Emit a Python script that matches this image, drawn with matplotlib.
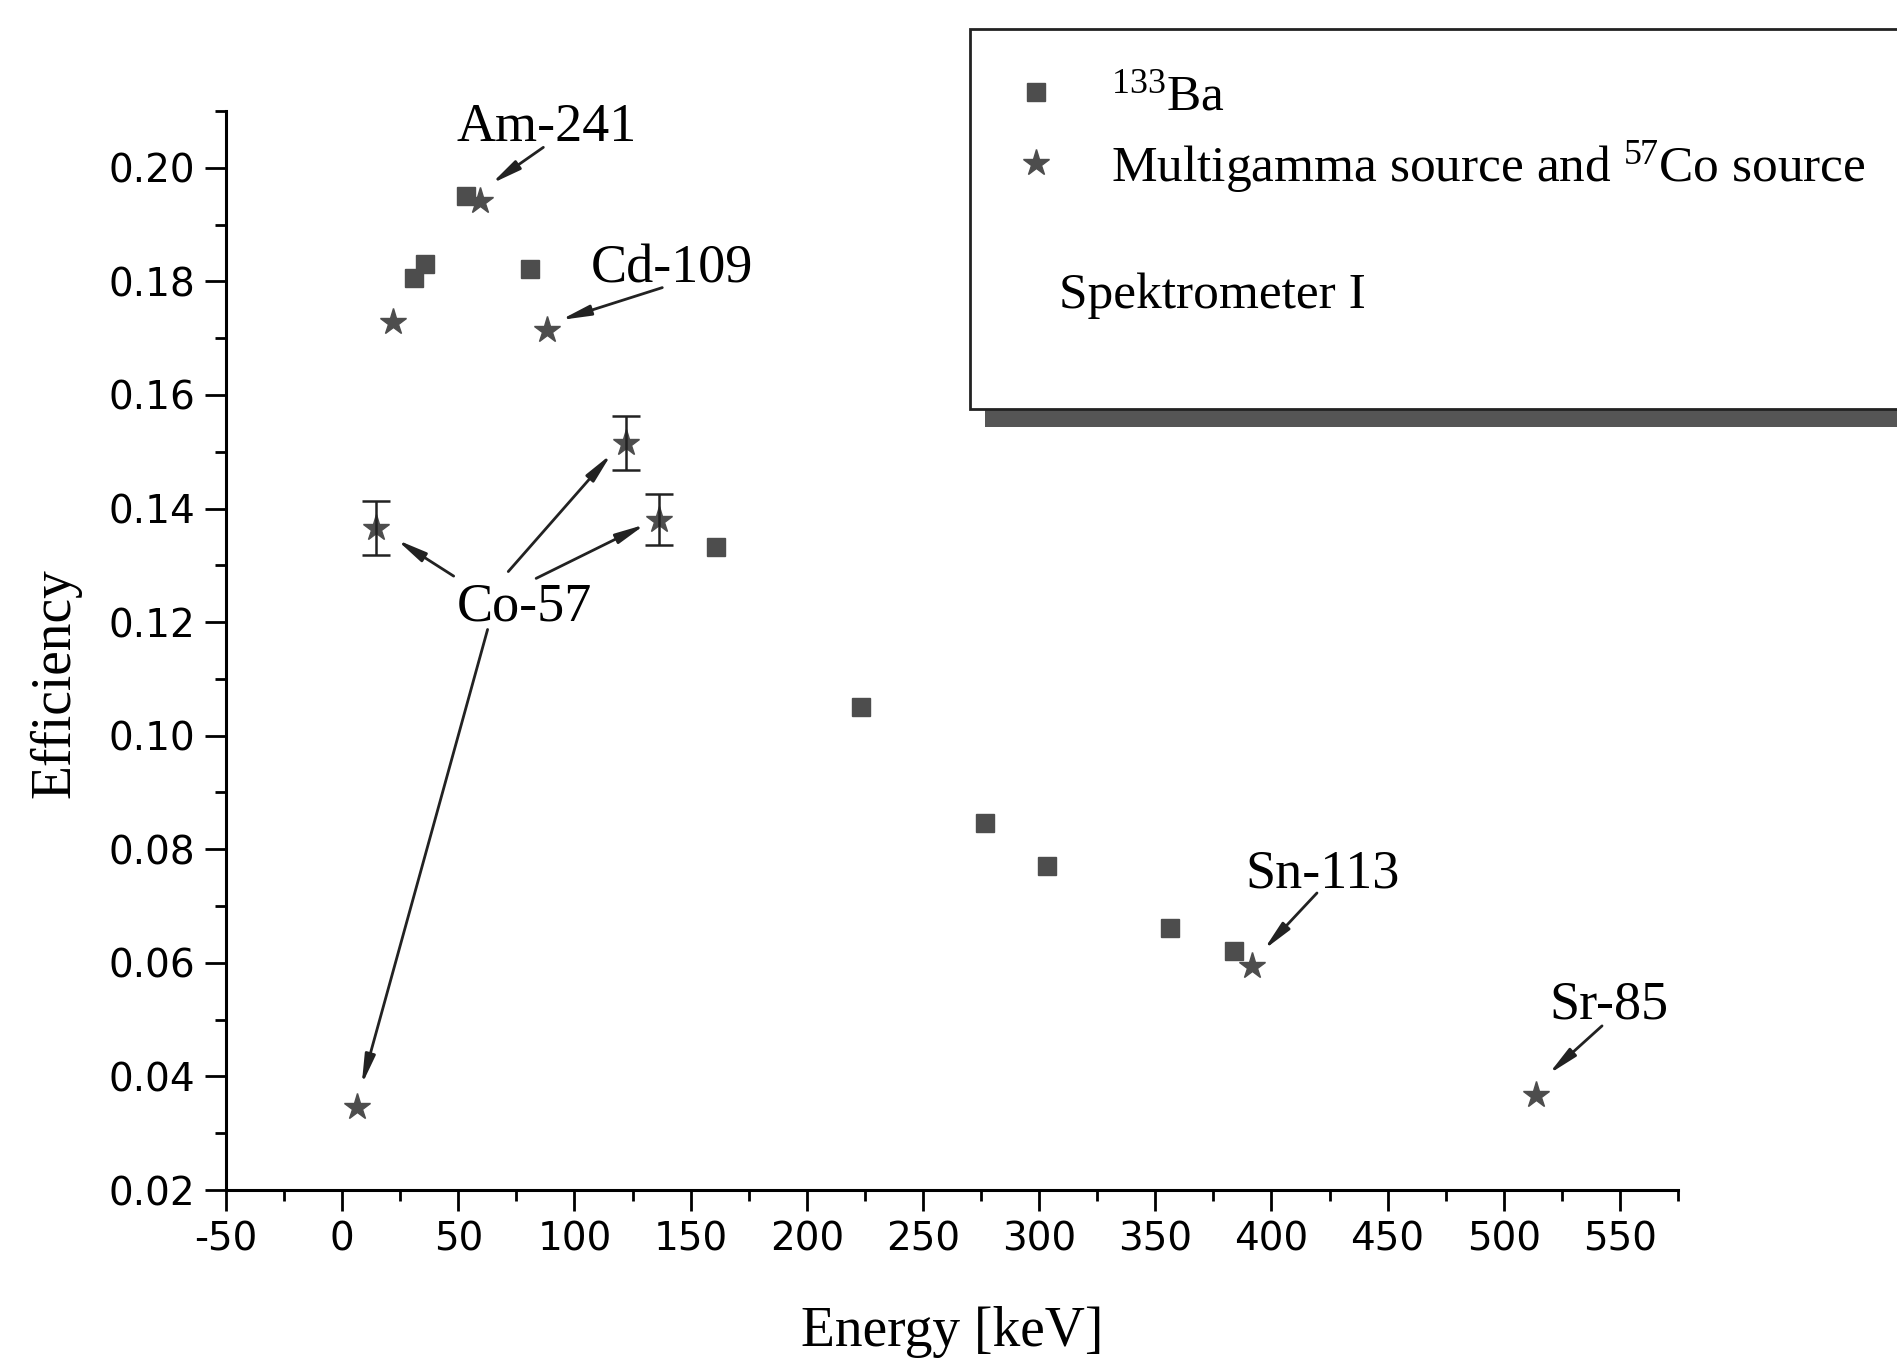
import numpy as np
import matplotlib
matplotlib.use("Agg")
import matplotlib.pyplot as plt
from matplotlib.ticker import MultipleLocator, FormatStrFormatter
from matplotlib.patches import Rectangle

plt.rcParams["axes.unicode_minus"] = False
plt.rcParams["mathtext.fontset"] = "custom"
plt.rcParams["mathtext.rm"] = "Liberation Serif"
plt.rcParams["mathtext.it"] = "Liberation Serif:italic"

# 133Ba points
ba_energy = [30.8, 35.5, 53.2, 81.0, 161.0, 223.4, 276.8, 303.5, 356.2, 383.8]
ba_eff = [0.1806, 0.1830, 0.1950, 0.1821, 0.1332, 0.1050, 0.0846, 0.0770, 0.0661, 0.0620]

# multigamma + 57Co points (err = 0 -> no error bar)
mg_energy = [6.4, 14.4, 22.0, 59.5, 88.0, 122.0, 136.5, 391.7, 514.0]
mg_eff = [0.0346, 0.1366, 0.1728, 0.1942, 0.1715, 0.1515, 0.1380, 0.0594, 0.0368]
mg_err = [0.0, 0.0047, 0.0, 0.0, 0.0, 0.0048, 0.0045, 0.0, 0.0]

# labels: text (x, baseline y), arrows as (start x, start y, tip x, tip y)
labels = ["Am-241", "Cd-109", "Co-57", "Sn-113", "Sr-85"]
label_pos = [(88.2, 0.2047), (142.0, 0.1798), (78.3, 0.1202), (422.2, 0.0732), (545.4, 0.0502)]
label_arrows = [
    [(86.6, 0.2036, 64.2, 0.1972)],
    [(137.8, 0.1789, 94.0, 0.1732)],
    [(48.0, 0.1281, 23.5, 0.1345),
     (71.5, 0.1289, 115.9, 0.1496),
     (83.5, 0.1277, 130.5, 0.1372),
     (62.6, 0.1187, 8.4, 0.0385)],
    [(419.6, 0.0723, 396.7, 0.0623)],
    [(542.3, 0.0489, 519.3, 0.0404)],
]

W, H = 1897, 1360
fig = plt.figure(figsize=(W / 100, H / 100), dpi=100)
ax = fig.add_axes([226 / W, 1 - 1190 / H, (1678 - 226) / W, (1190 - 111) / H])

mark_col = "#4d4d4d"
serif = "Liberation Serif"

sq, = ax.plot(ba_energy, ba_eff, "s", ms=13, color=mark_col, mec=mark_col, ls="none",
              label="$^{133}$Ba")
st, = ax.plot(mg_energy, mg_eff, "*", ms=20, color=mark_col, mec=mark_col, ls="none",
              label="Multigamma source and $^{57}$Co source")
err = np.array(mg_err)
m = err > 0
ax.errorbar(np.array(mg_energy)[m], np.array(mg_eff)[m], yerr=err[m], fmt="none",
            ecolor="#222222", elinewidth=1.8, capsize=10, capthick=1.8)

for txt, (tx, ty), arrows in zip(labels, label_pos, label_arrows):
    ax.text(tx, ty, txt, ha="center", va="baseline", fontsize=39, family=serif)
    for x0, y0, x1, y1 in arrows:
        ax.annotate("", xy=(x1, y1), xytext=(x0, y0),
                    arrowprops=dict(arrowstyle="-|>,head_length=0.8,head_width=0.14",
                                    lw=2.0, color="#222222", shrinkA=0, shrinkB=0,
                                    mutation_scale=22))

ax.set_xlim(-50, 575)
ax.set_ylim(0.02, 0.21)
ax.xaxis.set_major_locator(MultipleLocator(50))
ax.xaxis.set_minor_locator(MultipleLocator(25))
ax.yaxis.set_major_locator(MultipleLocator(0.02))
ax.yaxis.set_minor_locator(MultipleLocator(0.01))
ax.yaxis.set_major_formatter(FormatStrFormatter("%.2f"))
ax.set_yticks(np.arange(0.02, 0.201, 0.02))

for s in ["top", "right"]:
    ax.spines[s].set_visible(False)
for s in ["left", "bottom"]:
    ax.spines[s].set_linewidth(2.2)
ax.tick_params(which="major", direction="out", length=15, width=2.0, labelsize=28, pad=7)
ax.tick_params(which="minor", direction="out", length=8, width=2.0)
for lab in ax.get_xticklabels() + ax.get_yticklabels():
    lab.set_family("DejaVu Sans")

ax.set_xlabel("Energy [keV]", fontsize=40, family=serif, va="center")
ax.xaxis.set_label_coords(0.5, -0.132)
ax.set_ylabel("Efficiency", fontsize=40, family=serif, va="center")
ax.yaxis.set_label_coords(-0.1175, 0.47)

# legend box with shadow running off the right edge
fig.add_artist(Rectangle((985 / W, 1 - 427 / H), 0.6, (427 - 44) / H,
                         transform=fig.transFigure, facecolor="#555555", edgecolor="none",
                         zorder=5))
fig.add_artist(Rectangle((970 / W, 1 - 409 / H), 0.6, (409 - 29) / H,
                         transform=fig.transFigure, facecolor="white", edgecolor="#222222",
                         lw=2.0, zorder=6))
leg = fig.legend(handles=[sq, st], loc="upper left", bbox_to_anchor=(985 / W, 1 - 48 / H),
                 frameon=False, prop={"family": serif, "size": 37},
                 handlelength=1.0, handletextpad=0.95, borderpad=0, labelspacing=0.35,
                 markerscale=1.0)
leg.set_zorder(7)
fig.text(1059 / W, 1 - 296 / H, "Spektrometer I", fontsize=37, family=serif,
         va="center", ha="left", zorder=7)

plt.savefig("out.png", dpi=100)
